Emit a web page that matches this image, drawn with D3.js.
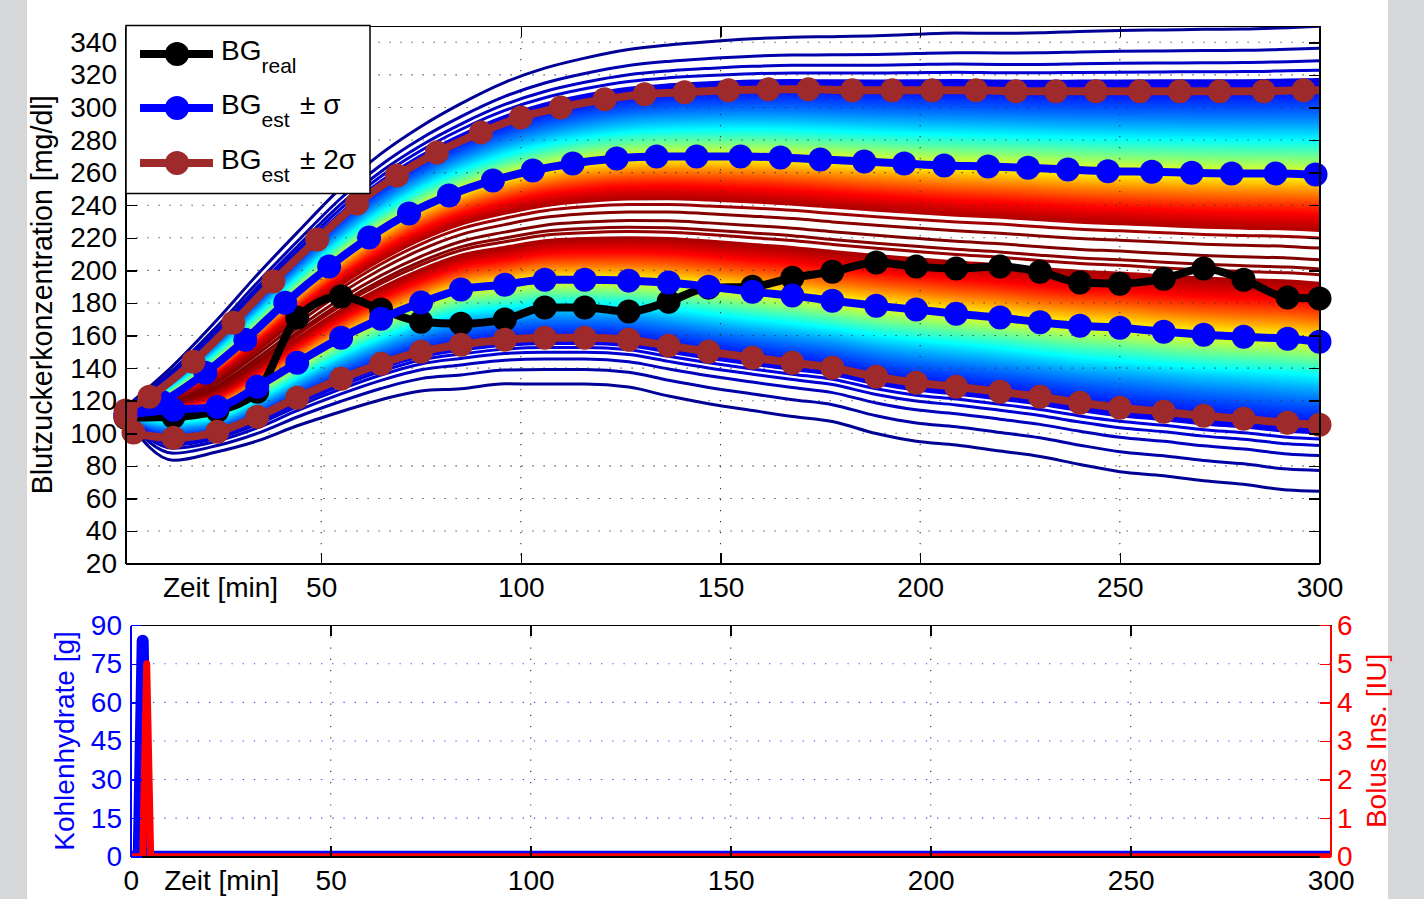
<!DOCTYPE html>
<html>
<head>
<meta charset="utf-8">
<script src="https://cdn.jsdelivr.net/npm/d3@7"></script>
<style>
  body { margin: 0; background: #d6d7d9; }
  svg { display: block; font-family: "Liberation Sans", Arial, Helvetica, sans-serif; }
  .ax path, .ax line { shape-rendering: crispEdges; }
</style>
</head>
<body>
<svg id="chart" width="1424" height="899"></svg>
<script>
// ---------- data ----------
// BG_real and lower sigma band share marker times [min]
const T_LOW = [1, 13, 24, 34, 44, 55, 65, 75, 85, 96, 106, 116, 127, 137, 147, 158, 168, 178, 189, 199, 209, 220, 230, 240, 250, 261, 271, 281, 292, 300];
const BG_REAL = [109.5, 110.1, 113.8, 125.5, 171.0, 183.9, 176.0, 168.5, 167.3, 169.8, 177.2, 177.2, 174.7, 180.8, 189.4, 190.0, 195.5, 199.2, 204.8, 202.3, 201.1, 202.3, 199.2, 192.5, 191.8, 194.9, 201.1, 194.3, 183.3, 182.7];
const BG_LO1 = [111.3, 114.4, 116.2, 128.6, 143.3, 158.7, 170.3, 180.2, 188.2, 191.2, 194.3, 194.3, 193.7, 192.5, 190.0, 186.9, 184.5, 181.4, 178.3, 175.9, 173.4, 171.0, 168.2, 166.0, 164.8, 162.3, 160.5, 159.2, 158.0, 156.2];
// BG_est - 2 sigma
const T_LO2 = [1, 3, 13, 24, 34, 44, 55, 65, 75, 85, 96, 106, 116, 127, 137, 147, 158, 168, 178, 189, 199, 209, 220, 230, 240, 250, 261, 271, 281, 292, 300];
const BG_LO2 = [110.0, 100.5, 97.2, 100.9, 110.1, 121.8, 133.5, 142.7, 150.1, 154.4, 157.4, 158.7, 158.7, 157.4, 153.8, 150.1, 146.4, 143.3, 140.2, 134.7, 131.0, 128.6, 125.5, 122.4, 118.7, 115.7, 113.2, 110.7, 108.9, 106.4, 105.2];
// BG_est + sigma
const T_UP1 = [1, 10, 21, 31, 41, 52, 62, 72, 82, 93, 103, 113, 124, 134, 144, 155, 165, 175, 186, 196, 206, 217, 227, 237, 247, 258, 268, 278, 289, 299];
const BG_UP1 = [111.3, 119.3, 137.1, 157.4, 180.1, 202.3, 220.1, 234.9, 246.0, 255.2, 261.3, 265.6, 268.7, 269.9, 269.9, 269.9, 269.3, 268.1, 266.8, 265.6, 264.4, 263.8, 263.0, 261.9, 260.9, 260.5, 259.9, 259.5, 259.5, 258.8];
// BG_est + 2 sigma (last point is the line end, no marker)
const T_UP2 = [1, 7, 18, 28, 38, 49, 59, 69, 79, 90, 100, 110, 121, 131, 141, 152, 162, 172, 183, 193, 203, 214, 224, 234, 244, 255, 265, 275, 286, 296, 300];
const BG_UP2 = [114.0, 122.4, 143.9, 167.9, 193.1, 218.9, 241.0, 258.2, 272.4, 284.7, 293.9, 300.0, 305.0, 308.1, 309.3, 310.5, 311.1, 311.1, 310.5, 310.5, 310.5, 310.5, 309.9, 309.9, 309.9, 309.9, 309.9, 309.9, 309.9, 310.5, 310.5];

// sigma levels of the simulated curves in the fan
const Z_OUTER = [2.76, 2.5, 2.35, 2.24, -2.17, -2.25, -2.37, -2.55, -2.8];
const Z_CORE = [0.24, 0.12, -0.02, -0.13, -0.2];

// carbohydrates [g] and bolus insulin [IU]
const CARB_T = [0, 2, 3, 4, 300];
const CARB_G = [0, 0, 84, 0, 0];
const BOLUS_T = [0, 3, 4, 5, 300];
const BOLUS_IU = [0, 0, 5, 0, 0];

const Y_TICKS = [20, 40, 60, 80, 100, 120, 140, 160, 180, 200, 220, 240, 260, 280, 300, 320, 340];
const X_TICKS = [50, 100, 150, 200, 250, 300];
const CARB_TICKS = [0, 15, 30, 45, 60, 75, 90];
const BOLUS_TICKS = [0, 1, 2, 3, 4, 5, 6];

const BROWN = '#9e2a2b';
const FS = 28;

const svg = d3.select('#chart');
svg.append('rect').attr('x', 27).attr('y', 0).attr('width', 1361).attr('height', 899).attr('fill', '#fff');

// ---------- upper plot ----------
const x = d3.scaleLinear().domain([1, 300]).range([125.5, 1319.5]);
const y = d3.scaleLinear().domain([20, 350]).range([563.6, 26]);
const [x0, x1] = x.range(), [yb, yt] = y.range();

svg.append('clipPath').attr('id', 'clipTop')
  .append('rect').attr('x', x0).attr('y', yt).attr('width', x1 - x0).attr('height', yb - yt);

// band boundaries at common times
const up1 = d3.scaleLinear().domain(T_UP1).range(BG_UP1).clamp(true);
const up2 = d3.scaleLinear().domain(T_UP2).range(BG_UP2).clamp(true);
const lo2 = d3.scaleLinear().domain(T_LO2).range(BG_LO2).clamp(true);
const bands = T_LOW.map((t, i) => {
  const l1 = BG_LO1[i], u1 = up1(t);
  return { t, l1, u1, l2: lo2(t), u2: up2(t), m: (l1 + u1) / 2 };
});
const level = (b, z) => {
  if (z >= 0) return z <= 1 ? b.m + z * (b.u1 - b.m) : b.u1 + (z - 1) * (b.u2 - b.u1);
  return z >= -1 ? b.m + z * (b.m - b.l1) : b.l1 + (z + 1) * (b.l1 - b.l2);
};

const jet = v => {
  const c = k => Math.round(255 * Math.max(0, Math.min(1, k)));
  return `rgb(${c(Math.min(4 * v - 1.5, -4 * v + 4.5))},${c(Math.min(4 * v - 0.5, -4 * v + 3.5))},${c(Math.min(4 * v + 0.5, -4 * v + 2.5))})`;
};

const zs = Z_OUTER.concat(Z_CORE, d3.range(0.33, 2.15, 0.02), d3.range(-2.1, -0.29, 0.02))
  .sort((a, b) => Math.abs(b) - Math.abs(a));

const fanLine = d3.line().curve(d3.curveMonotoneX).x(d => x(d[0])).y(d => y(d[1]));

svg.append('g').attr('clip-path', 'url(#clipTop)')
  .selectAll('path')
  .data(zs)
  .enter()
  .append('path')
  .attr('d', z => fanLine(bands.map(b => [b.t, level(b, z)])))
  .attr('fill', 'none')
  .attr('stroke', z => jet(Math.exp(-z * z / 2)))
  .attr('stroke-width', 3);

// dotted grid
const grid = svg.append('g').attr('stroke', '#333').attr('stroke-width', 1.1).attr('stroke-dasharray', '1.2,9.8');
grid.selectAll('line.h')
  .data(Y_TICKS.filter(v => v > 20))
  .enter().append('line')
  .attr('x1', x0).attr('x2', x1).attr('y1', d => y(d)).attr('y2', d => y(d));
grid.selectAll('line.v')
  .data(X_TICKS.filter(v => v < 300))
  .enter().append('line')
  .attr('y1', yt).attr('y2', yb).attr('x1', d => x(d)).attr('x2', d => x(d));

// series
const series = [
  { t: T_LOW, v: BG_REAL, color: '#000', last: true },
  { t: T_UP1, v: BG_UP1, color: '#0000ff', last: true },
  { t: T_LOW, v: BG_LO1, color: '#0000ff', last: true },
  { t: T_UP2, v: BG_UP2, color: BROWN, last: false },
  { t: T_LO2, v: BG_LO2, color: BROWN, last: true }
];
const line = d3.line().curve(d3.curveMonotoneX).x(d => x(d[0])).y(d => y(d[1]));

series.forEach(s => {
  const pts = s.t.map((t, i) => [t, s.v[i]]);
  const g = svg.append('g');
  g.append('path')
    .attr('d', line(pts))
    .attr('fill', 'none')
    .attr('stroke', s.color)
    .attr('stroke-width', 8)
    .attr('stroke-linejoin', 'round');
  g.selectAll('circle')
    .data(s.last ? pts : pts.slice(0, -1))
    .enter().append('circle')
    .attr('cx', d => x(d[0]))
    .attr('cy', d => y(d[1]))
    .attr('r', 12)
    .attr('fill', s.color);
});

// axes (ticks inward, box)
const styleAxis = (g, color) => {
  g.attr('class', 'ax').attr('font-size', FS).attr('font-family', null);
  g.selectAll('path').attr('stroke', color).attr('stroke-width', 1.5);
  g.selectAll('line').attr('stroke', color).attr('stroke-width', 1.5);
  g.selectAll('text').attr('fill', color);
};

svg.append('g').attr('transform', `translate(${x0},0)`)
  .call(d3.axisLeft(y).tickValues(Y_TICKS).tickSize(-11).tickSizeOuter(0).tickPadding(8.5))
  .call(g => styleAxis(g, '#000'));
svg.append('g').attr('transform', `translate(${x1},0)`)
  .call(d3.axisRight(y).tickValues(Y_TICKS).tickSize(-11).tickSizeOuter(0).tickFormat(''))
  .call(g => styleAxis(g, '#000'));
svg.append('g').attr('transform', `translate(0,${yb})`)
  .call(d3.axisBottom(x).tickValues(X_TICKS).tickSize(-11).tickSizeOuter(0).tickPadding(13.5))
  .call(g => styleAxis(g, '#000'));
svg.append('g').attr('transform', `translate(0,${yt})`)
  .call(d3.axisTop(x).tickValues(X_TICKS).tickSize(-11).tickSizeOuter(0).tickFormat(''))
  .call(g => styleAxis(g, '#000'));

svg.append('text')
  .attr('x', 220.5).attr('y', 597)
  .attr('text-anchor', 'middle').attr('font-size', FS)
  .text('Zeit [min]');
svg.append('text')
  .attr('transform', `translate(42,${(yt + yb) / 2}) rotate(-90)`)
  .attr('text-anchor', 'middle').attr('dy', '0.36em').attr('font-size', 28.6)
  .text('Blutzuckerkonzentration [mg/dl]');

// legend
const legend = svg.append('g');
legend.append('rect')
  .attr('x', 126).attr('y', 25.5).attr('width', 244).attr('height', 168)
  .attr('fill', '#fff').attr('stroke', '#000').attr('stroke-width', 1.5);
const rows = [
  { y: 54, color: '#000', sub: 'real', tail: '' },
  { y: 108, color: '#0000ff', sub: 'est', tail: '\u00b1 \u03c3' },
  { y: 163, color: BROWN, sub: 'est', tail: '\u00b1 2\u03c3' }
];
rows.forEach(r => {
  legend.append('line').attr('x1', 140).attr('x2', 213).attr('y1', r.y).attr('y2', r.y)
    .attr('stroke', r.color).attr('stroke-width', 8);
  legend.append('circle').attr('cx', 177).attr('cy', r.y).attr('r', 12).attr('fill', r.color);
  const t = legend.append('text').attr('x', 221).attr('y', r.y + 6).attr('font-size', FS).text('BG');
  t.append('tspan').attr('dy', 13).attr('font-size', 21).text(r.sub);
  if (r.tail) {
    legend.append('text').attr('x', 300).attr('y', r.y + 6).attr('font-size', FS).text(r.tail);
  }
});

// ---------- lower plot ----------
const xL = d3.scaleLinear().domain([0, 300]).range([130.7, 1330.7]);
const yC = d3.scaleLinear().domain([0, 90]).range([856.7, 625.2]);
const yB = d3.scaleLinear().domain([0, 6]).range([856.7, 625.2]);
const [lx0, lx1] = xL.range(), [lyb, lyt] = yC.range();

svg.append('clipPath').attr('id', 'clipLow')
  .append('rect').attr('x', lx0).attr('y', lyt).attr('width', lx1 - lx0).attr('height', lyb - lyt);

const gridL = svg.append('g').attr('stroke-width', 1.1).attr('stroke-dasharray', '1.2,10');
gridL.selectAll('line.h')
  .data(CARB_TICKS.filter(v => v > 0 && v < 90))
  .enter().append('line')
  .attr('stroke', '#3b3bff')
  .attr('x1', lx0).attr('x2', lx1).attr('y1', d => yC(d)).attr('y2', d => yC(d));
gridL.selectAll('line.v')
  .data(X_TICKS.filter(v => v < 300))
  .enter().append('line')
  .attr('stroke', '#333')
  .attr('y1', lyt).attr('y2', lyb).attr('x1', d => xL(d)).attr('x2', d => xL(d));

const lowG = svg.append('g').attr('clip-path', 'url(#clipLow)');
lowG.append('path')
  .attr('d', d3.line().x(d => xL(d[0])).y(d => yC(d[1]))(CARB_T.map((t, i) => [t, CARB_G[i]])))
  .attr('fill', 'none').attr('stroke', '#0000ff').attr('stroke-width', 12)
  .attr('stroke-linejoin', 'round');
lowG.append('path')
  .attr('d', d3.line().x(d => xL(d[0])).y(d => yB(d[1]))(BOLUS_T.map((t, i) => [t, BOLUS_IU[i]])))
  .attr('fill', 'none').attr('stroke', '#ff0000').attr('stroke-width', 7)
  .attr('stroke-linejoin', 'round');

svg.append('g').attr('transform', `translate(0,${lyb})`)
  .call(d3.axisBottom(xL).tickValues([0].concat(X_TICKS)).tickSize(-11).tickSizeOuter(0).tickPadding(13.5))
  .call(g => styleAxis(g, '#000'));
svg.append('g').attr('transform', `translate(0,${lyt})`)
  .call(d3.axisTop(xL).tickValues(X_TICKS).tickSize(-11).tickSizeOuter(0).tickFormat(''))
  .call(g => styleAxis(g, '#000'));
svg.append('g').attr('transform', `translate(${lx0},0)`)
  .call(d3.axisLeft(yC).tickValues(CARB_TICKS).tickSize(-11).tickSizeOuter(0).tickPadding(8.7))
  .call(g => styleAxis(g, '#0000ff'));
svg.append('g').attr('transform', `translate(${lx1},0)`)
  .call(d3.axisRight(yB).tickValues(BOLUS_TICKS).tickSize(-11).tickSizeOuter(0).tickPadding(6.3).tickFormat(d3.format('d')))
  .call(g => styleAxis(g, '#ff0000'));

svg.append('text')
  .attr('x', 221.7).attr('y', 890)
  .attr('text-anchor', 'middle').attr('font-size', FS)
  .text('Zeit [min]');
svg.append('text')
  .attr('transform', `translate(64,${(lyt + lyb) / 2}) rotate(-90)`)
  .attr('text-anchor', 'middle').attr('dy', '0.36em').attr('font-size', FS)
  .attr('fill', '#0000ff')
  .text('Kohlenhydrate [g]');
svg.append('text')
  .attr('transform', `translate(1376,${(lyt + lyb) / 2}) rotate(-90)`)
  .attr('text-anchor', 'middle').attr('dy', '0.36em').attr('font-size', FS)
  .attr('fill', '#ff0000')
  .text('Bolus Ins. [IU]');
</script>
</body>
</html>
